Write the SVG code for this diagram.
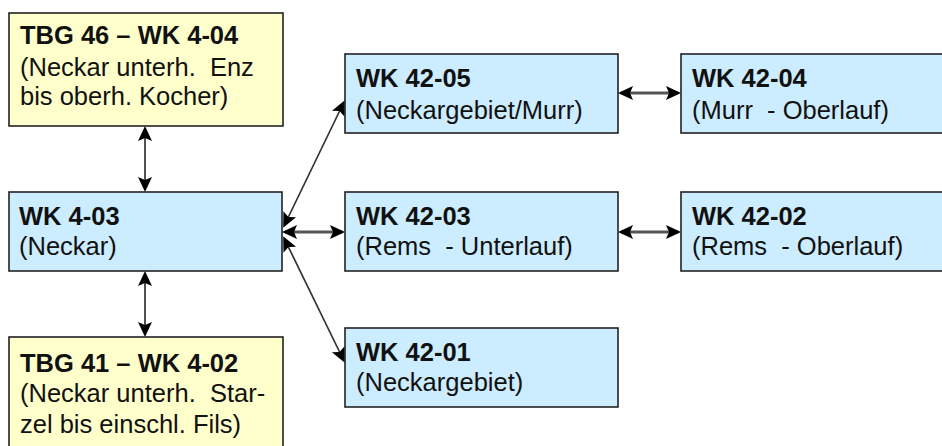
<svg xmlns="http://www.w3.org/2000/svg" width="942" height="446" viewBox="0 0 942 446">
<defs>
<style>
.y{fill:#FFFFCC;stroke:#222;stroke-width:1.6}
.b{fill:#CCECFF;stroke:#222;stroke-width:1.6}
text{font-family:"Liberation Sans",Arial,sans-serif;font-size:25.5px;fill:#111;white-space:pre}
.t{font-weight:bold}
.c{stroke:#333;stroke-width:1.7;fill:none;marker-start:url(#ah);marker-end:url(#ah)}
.h{stroke:#555;stroke-width:2.8}
</style>
<marker id="ah" markerUnits="userSpaceOnUse" markerWidth="18" markerHeight="16" refX="12" refY="7" orient="auto-start-reverse" viewBox="0 0 18 16">
<path d="M0,0 L15,7 L0,14 L3,7 z" fill="#000"/>
</marker>
</defs>
<rect width="942" height="446" fill="#fff"/>
<g id="connectors">
<line class="c" x1="145" y1="129" x2="145" y2="189"/>
<line class="c" x1="145" y1="274" x2="145" y2="334"/>
<line class="c h" x1="285" y1="232" x2="342" y2="232"/>
<line class="c h" x1="621" y1="93" x2="678" y2="93"/>
<line class="c h" x1="621" y1="232" x2="678" y2="232"/>
<line class="c" x1="284.5" y1="225" x2="343.5" y2="103"/>
<line class="c" x1="284.5" y1="239" x2="343.5" y2="360"/>
</g>
<g id="tbg46">
<rect class="y" x="9" y="13" width="274" height="113"/>
<text class="t" x="20" y="44">TBG 46 – WK 4-04</text>
<text x="20" y="76">(Neckar unterh.  Enz</text>
<text x="20" y="105">bis oberh. Kocher)</text>
</g>
<g id="wk4-03">
<rect class="b" x="9" y="192" width="273" height="79"/>
<text class="t" x="19" y="225">WK 4-03</text>
<text x="19" y="255">(Neckar)</text>
</g>
<g id="tbg41">
<rect class="y" x="9" y="337" width="274" height="125"/>
<text class="t" x="20" y="372">TBG 41 – WK 4-02</text>
<text x="20" y="402">(Neckar unterh.  Star-</text>
<text x="20" y="433">zel bis einschl. Fils)</text>
</g>
<g id="wk42-05">
<rect class="b" x="345" y="54" width="273" height="79"/>
<text class="t" x="356" y="87">WK 42-05</text>
<text x="356" y="119">(Neckargebiet/Murr)</text>
</g>
<g id="wk42-04">
<rect class="b" x="681" y="54" width="280" height="79"/>
<text class="t" x="692" y="87">WK 42-04</text>
<text x="692" y="119">(Murr  - Oberlauf)</text>
</g>
<g id="wk42-03">
<rect class="b" x="345" y="192" width="273" height="79"/>
<text class="t" x="356" y="225">WK 42-03</text>
<text x="356" y="255">(Rems  - Unterlauf)</text>
</g>
<g id="wk42-02">
<rect class="b" x="681" y="192" width="280" height="79"/>
<text class="t" x="692" y="225">WK 42-02</text>
<text x="692" y="255">(Rems  - Oberlauf)</text>
</g>
<g id="wk42-01">
<rect class="b" x="345" y="328" width="273" height="79"/>
<text class="t" x="356" y="361">WK 42-01</text>
<text x="356" y="391">(Neckargebiet)</text>
</g>
</svg>
